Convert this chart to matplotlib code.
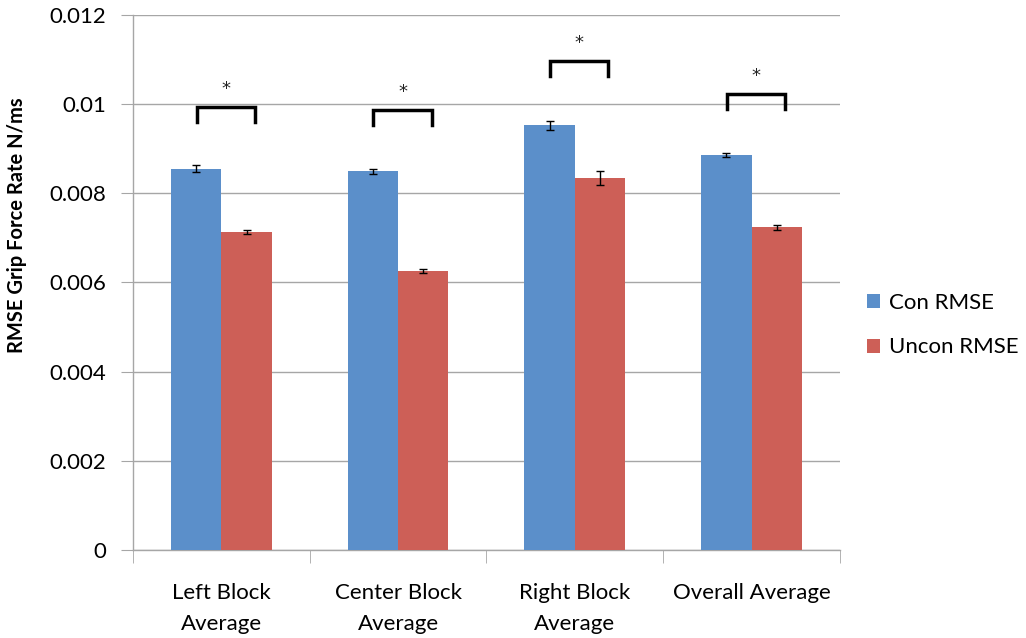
import numpy as np
import matplotlib
matplotlib.use("Agg")
from matplotlib import pyplot as plt

plt.rcParams['font.family'] = ['Lato', 'DejaVu Sans']

categories = ["Left Block\nAverage", "Center Block\nAverage", "Right Block\nAverage", "Overall Average"]
con_rmse = [0.00855, 0.00849, 0.00953, 0.00886]
con_err = [0.00008, 0.00005, 0.00010, 0.00004]
uncon_rmse = [0.00713, 0.00626, 0.00835, 0.00724]
uncon_err = [0.00004, 0.00005, 0.00016, 0.00006]
bracket_top = [0.00994, 0.00987, 0.01097, 0.01023]

blue = "#5b8fca"
red = "#cd5f57"
grid_c = "#a6a6a6"

fig = plt.figure(figsize=(10.26, 6.38), dpi=100)
ax = fig.add_axes([0.1296, 0.138, 0.6891, 0.8385])

x = np.arange(len(categories))
w = 0.285
ax.bar(x - w/2, con_rmse, w, color=blue, label="Con RMSE", zorder=3)
ax.bar(x + w/2, uncon_rmse, w, color=red, label="Uncon RMSE", zorder=3)
ax.errorbar(x - w/2, con_rmse, yerr=con_err, fmt="none", ecolor="black",
            elinewidth=1, capsize=3, capthick=1, zorder=4)
ax.errorbar(x + w/2, uncon_rmse, yerr=uncon_err, fmt="none", ecolor="black",
            elinewidth=1, capsize=3, capthick=1, zorder=4)

# significance brackets
leg = 0.00033
for xi, top in zip(x, bracket_top):
    x0, x1 = xi - 0.14, xi + 0.19
    ax.plot([x0, x0, x1, x1], [top - leg, top, top, top - leg], color="black",
            lw=2.5, solid_joinstyle="miter", zorder=5)
    ax.text((x0 + x1) / 2, top + 0.0002, "*", ha="center", va="bottom",
            fontsize=13, family="DejaVu Sans", color="#222222", zorder=5)

ax.set_xlim(-0.5, len(categories) - 0.5)
ax.set_ylim(0, 0.012)
ax.set_yticks([0, 0.002, 0.004, 0.006, 0.008, 0.01, 0.012])
ax.set_yticklabels(["0", "0.002", "0.004", "0.006", "0.008", "0.01", "0.012"], fontsize=16)
ax.yaxis.grid(True, color=grid_c, lw=1, zorder=0)
ax.set_axisbelow(True)

ax.set_xticks(x)
ax.set_xticklabels(categories, fontsize=16, linespacing=1.65)
ax.set_xticks(np.arange(len(categories) + 1) - 0.5, minor=True)
ax.tick_params(axis="x", which="major", length=0, pad=24)
ax.tick_params(axis="x", which="minor", length=9, color=grid_c, direction="out")
ax.tick_params(axis="y", length=9, color=grid_c, direction="out", pad=10)

for s in ["top", "right"]:
    ax.spines[s].set_visible(False)
for s in ["left", "bottom"]:
    ax.spines[s].set_color(grid_c)
    ax.spines[s].set_linewidth(1)

ax.set_ylabel("RMSE Grip Force Rate N/ms", fontsize=14.5, fontweight="bold")
ax.yaxis.set_label_coords(-0.15, 0.607)

ax.legend(loc="center left", bbox_to_anchor=(1.01, 0.42), frameon=False, fontsize=16,
          handlelength=0.6, handleheight=0.6, handletextpad=0.4, labelspacing=1.1)

fig.savefig("out.png", dpi=100)
